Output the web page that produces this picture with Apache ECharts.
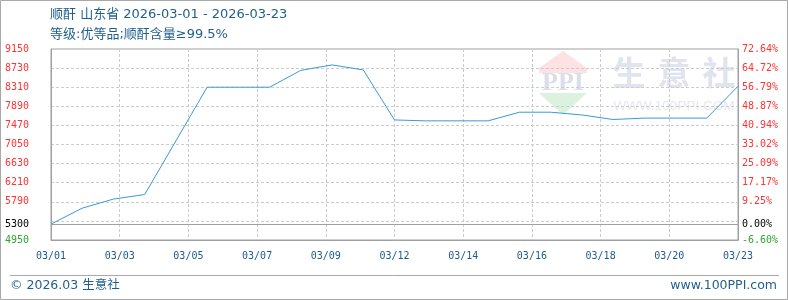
<!DOCTYPE html>
<html>
<head>
<meta charset="utf-8">
<style>
html,body{margin:0;padding:0;background:#fff;}
#chart{width:788px;height:300px;}
</style>
<script src="https://cdn.jsdelivr.net/npm/echarts@6.0.0/dist/echarts.min.js"></script>
</head>
<body>
<div id="chart"></div>
<script>
// ---- data ----
var days = ['03/01','03/02','03/03','03/04','03/05','03/06','03/07','03/08','03/09','03/10','03/11',
            '03/12','03/13','03/14','03/15','03/16','03/17','03/18','03/19','03/20','03/21','03/22','03/23'];
var prices = [5300, 5650, 5850, 5950, 7130, 8310, 8310, 8310, 8680, 8800, 8690,
              7590, 7570, 7570, 7570, 7760, 7760, 7700, 7600, 7630, 7630, 7630, 8330];
var xTickLabels = ['03/01','03/03','03/05','03/07','03/09','03/12','03/14','03/16','03/18','03/20','03/23'];
var yTicks = [9150, 8730, 8310, 7890, 7470, 7050, 6630, 6210, 5790, 5300, 4950];
var pctLabels = ['72.64%','64.72%','56.79%','48.87%','40.94%','33.02%','25.09%','17.17%','9.25%','0.00%','-6.60%'];
var titleLine1 = '顺酐 山东省 2026-03-01 - 2026-03-23';
var titleLine2 = '等级:优等品;顺酐含量≥99.5%';
var footerLeft = '© 2026.03 生意社';
var footerRight = 'www.100PPI.com';

var baseValue = prices[0];
var seriesData = prices.map(function (p, i) { return [i, p]; });

var RED = '#ff3333', BLACK = '#000000', GREEN = '#2ea62e';
var MONO = '"DejaVu Sans Mono", monospace';
var SANS = '"DejaVu Sans", "Noto Sans CJK SC", sans-serif';
var BLUE_TXT = '#1f5f8e';

function tickIndex(v) {
  for (var i = 0; i < yTicks.length; i++) { if (Math.abs(yTicks[i] - Number(v)) < 1e-6) return i; }
  return -1;
}
function labelColor(val) {
  var v = Number(val);
  if (Math.abs(v - baseValue) < 1e-6) return BLACK;
  return v > baseValue ? RED : GREEN;
}

function txt(x, y, text, font, fill, align, z) {
  return {
    type: 'text', x: x, y: y, z: z == null ? 10 : z, silent: true,
    style: { text: text, font: font, fill: fill, textAlign: align || 'left', align: align || 'left',
             textVerticalAlign: 'middle', verticalAlign: 'middle' }
  };
}

var chart = echarts.init(document.getElementById('chart'), null, { renderer: 'canvas' });
var option = {
  animation: false,
  backgroundColor: '#ffffff',
  grid: { left: 51, right: 50, top: 49, bottom: 60, show: true, borderColor: '#a0a0a0', borderWidth: 1, backgroundColor: 'transparent' },
  xAxis: {
    type: 'value', min: 0, max: days.length - 1, interval: (days.length - 1) / 10,
    axisLine: { show: true, lineStyle: { color: '#a0a0a0' } },
    axisTick: { show: false },
    splitLine: { show: true, showMinLine: false, showMaxLine: false, lineStyle: { color: '#cccccc', type: [3, 2], width: 1 } },
    axisLabel: {
      margin: 11, color: '#1d5c8a', fontFamily: MONO, fontSize: 10,
      formatter: function (v) { var i = Math.round(v / ((days.length - 1) / 10)); return xTickLabels[i] || ''; }
    }
  },
  yAxis: [{
    type: 'value', min: 4950, max: 9150, interval: 420, position: 'left',
    axisLine: { show: true, lineStyle: { color: '#a0a0a0' } },
    axisTick: { show: false },
    splitLine: { show: true, showMinLine: false, showMaxLine: false, lineStyle: { color: '#cccccc', type: [3, 2], width: 1 } },
    axisLabel: {
      customValues: yTicks, margin: 22, fontFamily: MONO, fontSize: 10,
      color: labelColor,
      formatter: function (v) { return String(Math.round(v)); }
    }
  }, {
    type: 'value', min: 4950, max: 9150, interval: 420, position: 'right',
    axisLine: { show: true, lineStyle: { color: '#a0a0a0' } },
    axisTick: { show: false },
    splitLine: { show: false },
    axisLabel: {
      customValues: yTicks, margin: 4, fontFamily: MONO, fontSize: 10,
      color: labelColor,
      formatter: function (v) { var i = tickIndex(v); return i >= 0 ? pctLabels[i] : ''; }
    }
  }],
  series: [{
    type: 'line', data: seriesData, yAxisIndex: 0,
    showSymbol: false, symbol: 'none',
    lineStyle: { color: '#3a99d8', width: 1 },
    z: 5,
    markLine: {
      silent: true, symbol: ['none', 'none'], animation: false,
      label: { show: false },
      lineStyle: { color: '#a0a0a0', type: 'solid', width: 1 },
      data: [{ yAxis: baseValue }]
    }
  }],
  graphic: [
    // watermark (behind everything)
    { type: 'polygon', z: -5, silent: true, shape: { points: [[539, 68], [587, 68], [563, 51]] }, style: { fill: '#fce2e2' } },
    { type: 'rect', z: -5, silent: true, shape: { x: 539, y: 68, width: 48, height: 5 }, style: { fill: '#fce2e2' } },
    txt(563, 83, 'PPI', 'bold 26px "Liberation Serif", serif', '#d9deea', 'center', -5),
    { type: 'polygon', z: -5, silent: true, shape: { points: [[539, 93], [587, 93], [563, 115]] }, style: { fill: '#dcf2e0' } },
    txt(629, 72, '生', 'bold 33px "Noto Sans CJK SC", sans-serif', '#e0e4ef', 'center', -5),
    txt(674, 72, '意', 'bold 33px "Noto Sans CJK SC", sans-serif', '#e0e4ef', 'center', -5),
    txt(719, 72, '社', 'bold 33px "Noto Sans CJK SC", sans-serif', '#e0e4ef', 'center', -5),
    txt(674, 106, 'WWW.100PPI.COM', '13.5px "Liberation Sans", sans-serif', '#e6e8ef', 'center', -5),
    // titles
    txt(50, 15, titleLine1, '13px ' + SANS, BLUE_TXT, 'left'),
    txt(50, 35, titleLine2, '13px ' + SANS, BLUE_TXT, 'left'),
    // footer
    { type: 'line', silent: true, z: 10, shape: { x1: 10, y1: 275.5, x2: 779, y2: 275.5 }, style: { stroke: '#a8a8a8', lineWidth: 1 } },
    txt(10, 286, footerLeft, '12.5px ' + SANS, BLUE_TXT, 'left'),
    txt(777, 286, footerRight, '12.5px ' + SANS, BLUE_TXT, 'right'),
    // outer frame
    { type: 'rect', silent: true, z: 10, shape: { x: 0.5, y: 0.5, width: 787, height: 299 }, style: { fill: 'none', stroke: '#a8a8a8', lineWidth: 1 } }
  ]
};
chart.setOption(option);
</script>
</body>
</html>
